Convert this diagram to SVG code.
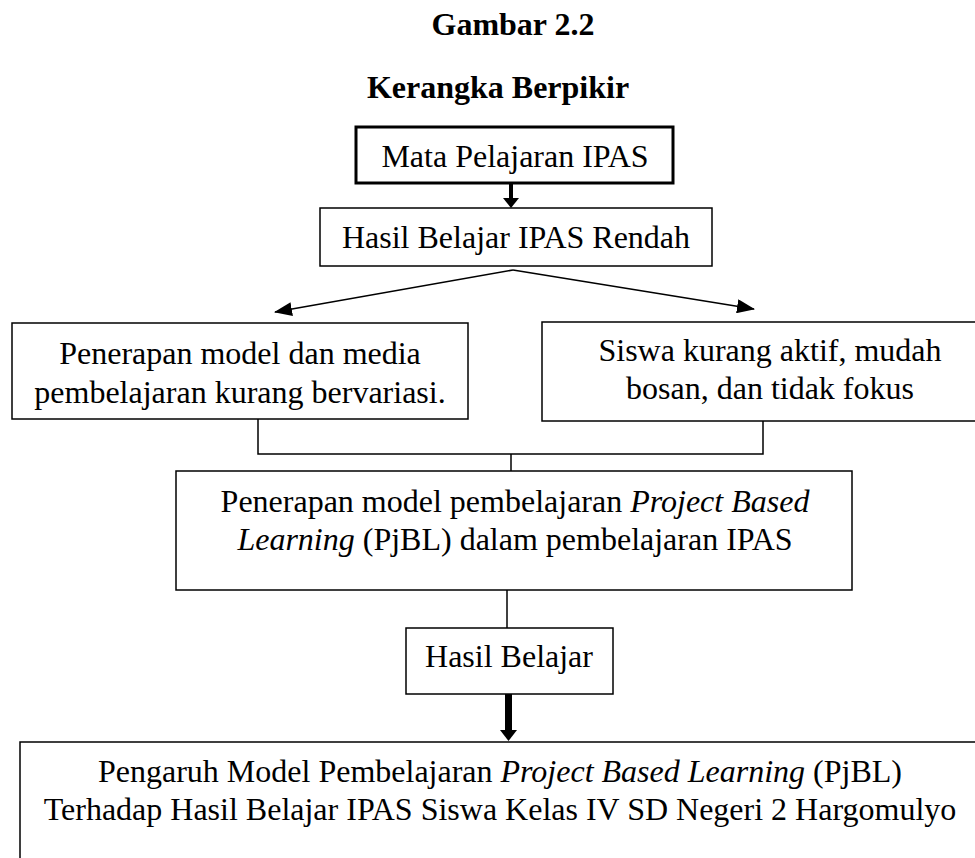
<svg xmlns="http://www.w3.org/2000/svg" width="975" height="858" viewBox="0 0 975 858">
<style>
text{font-family:"Liberation Serif","Times New Roman",serif;font-size:32px;fill:#000;text-anchor:middle}
.title{font-weight:bold}
.box{fill:#fff;stroke:#000;stroke-width:1.5}
.thick{stroke-width:3}
.ln{fill:none;stroke:#000;stroke-width:1.5}
.hd{fill:#000;stroke:none}
</style>
<defs>
<marker id="ah" markerUnits="userSpaceOnUse" markerWidth="18" markerHeight="14" refX="17" refY="7" orient="auto">
<path d="M0,0 L18,7 L0,14 Z" fill="#000"/>
</marker>
</defs>
<rect width="975" height="858" fill="#fff"/>
<text class="title" x="513" y="35">Gambar 2.2</text>
<text class="title" x="498" y="98">Kerangka Berpikir</text>

<g id="connectors">
<rect class="hd" x="509" y="183" width="4" height="16"/>
<polygon class="hd" points="503,198 519,198 511,208"/>
<line class="ln" x1="513" y1="270" x2="275" y2="312" marker-end="url(#ah)"/>
<line class="ln" x1="513" y1="270" x2="754" y2="309" marker-end="url(#ah)"/>
<polyline class="ln" points="258,419 258,454 763,454 763,421"/>
<line class="ln" x1="511" y1="454" x2="511" y2="471"/>
<line class="ln" x1="507" y1="590" x2="507" y2="628"/>
<rect class="hd" x="505" y="694" width="7" height="37"/>
<polygon class="hd" points="500,730 517,730 508.5,741"/>
</g>

<g id="n1">
<rect class="box thick" x="356" y="127" width="317" height="56"/>
<text x="515" y="167">Mata Pelajaran IPAS</text>
</g>
<g id="n2">
<rect class="box" x="320" y="208" width="392" height="58"/>
<text x="516" y="248">Hasil Belajar IPAS Rendah</text>
</g>
<g id="n3">
<rect class="box" x="12" y="323" width="456" height="96"/>
<text x="240" y="364">Penerapan model dan media</text>
<text x="240" y="403">pembelajaran kurang bervariasi.</text>
</g>
<g id="n4">
<rect class="box" x="542" y="322" width="460" height="99"/>
<text x="770" y="361">Siswa kurang aktif, mudah</text>
<text x="770" y="399">bosan, dan tidak fokus</text>
</g>
<g id="n5">
<rect class="box" x="176" y="471" width="676" height="119"/>
<text x="515" y="512">Penerapan model pembelajaran <tspan font-style="italic">Project Based</tspan></text>
<text x="515" y="550"><tspan font-style="italic">Learning</tspan> (PjBL) dalam pembelajaran IPAS</text>
</g>
<g id="n6">
<rect class="box" x="406" y="628" width="207" height="66"/>
<text x="509" y="667">Hasil Belajar</text>
</g>
<g id="n7">
<rect class="box" x="20" y="742" width="1000" height="200"/>
<text x="500" y="782">Pengaruh Model Pembelajaran <tspan font-style="italic">Project Based Learning</tspan> (PjBL)</text>
<text x="500" y="820">Terhadap Hasil Belajar IPAS Siswa Kelas IV SD Negeri 2 Hargomulyo</text>
</g>
</svg>
